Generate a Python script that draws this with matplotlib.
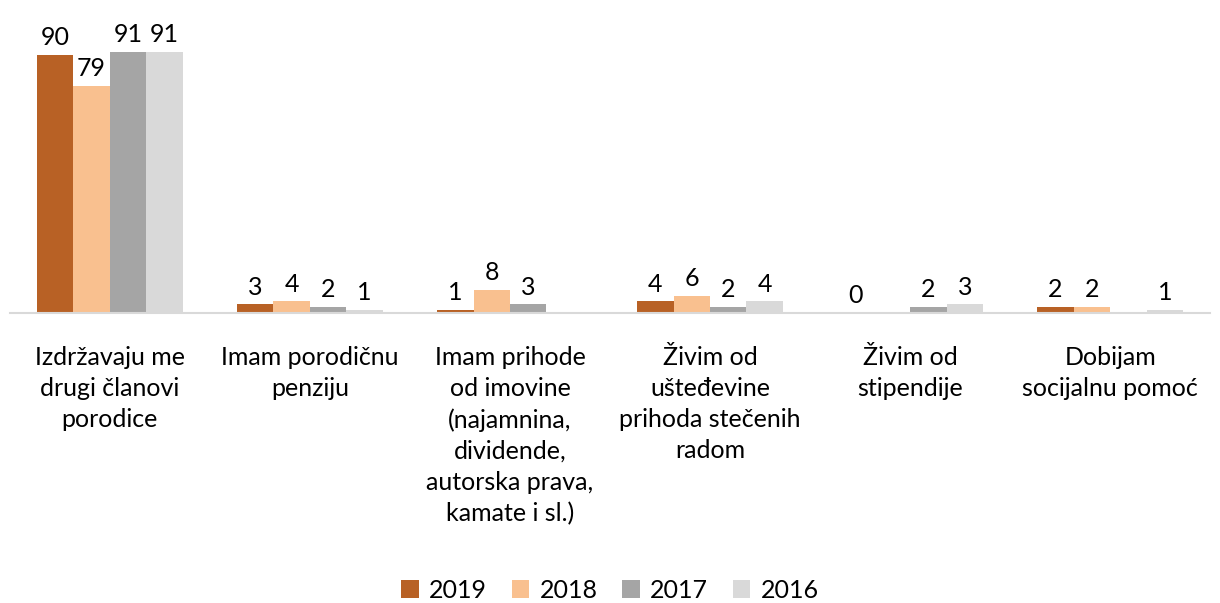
import numpy as np
import matplotlib
matplotlib.use("Agg")
import matplotlib.pyplot as plt

plt.rcParams["font.family"] = ["Lato", "DejaVu Sans"]

# ============================================================
# DATA
# ============================================================

categories = [
    "Izdržavaju me\ndrugi članovi\nporodice",
    "Imam porodičnu\npenziju",
    "Imam prihode\nod imovine\n(najamnina,\ndividende,\nautorska prava,\nkamate i sl.)",
    "Živim od\nušteđevine\nprihoda stečenih\nradom",
    "Živim od\nstipendije",
    "Dobijam\nsocijalnu pomoć",
]
years = ["2019", "2018", "2017", "2016"]
v2019 = [90, 3, 1, 4, 0, 2]
v2018 = [79, 4, 8, 6, np.nan, 2]
v2017 = [91, 2, 3, 2, 2, np.nan]
v2016 = [91, 1, np.nan, 4, 3, 1]
colors = ["#B86125", "#F9C08F", "#A5A5A5", "#D9D9D9"]

# ============================================================
# PLOT
# ============================================================

fig = plt.figure(figsize=(12.2, 6.03), dpi=100)
ax = fig.add_axes([0.008, 0.481, 0.984, 0.476])

x = np.arange(len(categories))
width = 0.182
series = [v2019, v2018, v2017, v2016]
for i, (vals, year, col) in enumerate(zip(series, years, colors)):
    pos = x + (i - 1.5) * width
    vals = np.array(vals, dtype=float)
    ax.bar(pos, np.nan_to_num(vals), width, color=col, label=year)
    for p, v in zip(pos, vals):
        if np.isnan(v):
            continue
        ax.text(p, v + 2.0, f"{int(v)}", ha="center", va="bottom", fontsize=18, color="black")

ax.set_xlim(-0.5, len(categories) - 0.5)
ax.set_ylim(0, 100)
ax.set_yticks([])
ax.set_xticks(x)
ax.set_xticklabels(categories, fontsize=18, linespacing=1.42)
ax.tick_params(axis="x", length=0, pad=24)
for s in ["top", "right", "left"]:
    ax.spines[s].set_visible(False)
ax.spines["bottom"].set_color("#D9D9D9")
ax.spines["bottom"].set_linewidth(1.5)

fig.legend(loc="lower center", bbox_to_anchor=(0.5, -0.035), ncol=4, frameon=False,
           fontsize=18, handlelength=0.7, handleheight=0.7, handletextpad=0.4,
           columnspacing=1.0)

plt.savefig("out.png", dpi=100)
